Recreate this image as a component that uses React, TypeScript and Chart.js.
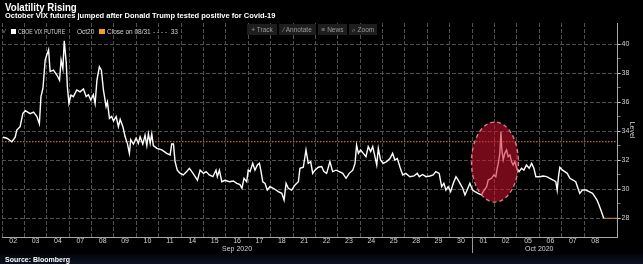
import React, { useEffect, useRef } from 'react';
import { Chart, registerables } from 'chart.js';

Chart.register(...registerables);

// ---- data ----
const dayLabels = ['02', '03', '04', '07', '08', '09', '10', '11', '14', '15', '16', '17', '18', '21', '22', '23', '24', '25', '28', '29', '30', '01', '02', '05', '06', '07', '08'];
const monthLabels = ['Sep 2020', 'Oct 2020'];
const monthDayCounts = [21, 6];
const yTickValues = [28, 30, 32, 34, 36, 38, 40];
const closeOn0831 = 33.26;
const closeLabel = '33';

// time in trading-day units from the open of Sep 02
const timeIdx = [
  0.04, 0.22, 0.44, 0.59, 0.66, 0.81, 0.93, 1.04, 1.26, 1.41, 1.56, 1.67, 1.74, 1.83, 1.93, 2.0, 2.08, 2.15, 2.3, 2.45,
  2.57, 2.64, 2.72, 2.78, 2.87, 2.92, 2.99, 3.08, 3.19, 3.34, 3.49, 3.64, 3.76, 3.86, 3.97, 4.08, 4.16, 4.24, 4.35, 4.44,
  4.53, 4.65, 4.71, 4.8, 4.9, 4.98, 5.1, 5.2,
  5.28, 5.4, 5.5, 5.6, 5.69, 5.75, 5.87, 5.99, 6.09, 6.17, 6.29, 6.39, 6.47, 6.54, 6.62, 6.69, 6.76, 6.92, 7.14, 7.36,
  7.51, 7.58, 7.66, 7.73, 7.83, 7.96, 8.1, 8.25, 8.37, 8.48, 8.63, 8.73, 8.85, 9.0, 9.12, 9.26, 9.42, 9.56, 9.62, 9.71,
  9.82, 9.96, 10.16, 10.33, 10.49, 10.63, 10.72, 10.81,
  10.93, 11.0, 11.08, 11.2, 11.3, 11.41, 11.5, 11.56, 11.65, 11.75, 11.85, 11.97, 12.12, 12.24, 12.34, 12.5, 12.6, 12.69, 12.79, 12.94,
  13.09, 13.24, 13.31, 13.46, 13.58, 13.68, 13.79, 13.88, 13.98, 14.13, 14.28, 14.38, 14.5, 14.65, 14.77, 14.92, 15.07, 15.22, 15.37, 15.51,
  15.67, 15.77, 15.84, 15.92, 16.02,
  16.14, 16.26, 16.36, 16.47, 16.56, 16.66, 16.74, 16.81, 16.91, 17.03, 17.18, 17.33, 17.45, 17.55, 17.66, 17.78, 17.9, 18.04, 18.22, 18.4,
  18.55, 18.64, 18.79, 18.94, 19.12, 19.26, 19.38, 19.53, 19.64, 19.74, 19.83, 19.93, 20.04, 20.16, 20.28, 20.38, 20.46, 20.58, 20.68, 20.78,
  20.9, 21.02, 21.13, 21.27,
  21.42, 21.5, 21.65, 21.72, 21.87, 21.97, 22.06, 22.12, 22.17, 22.24, 22.29, 22.33, 22.39, 22.46, 22.54, 22.61, 22.69, 22.76, 22.83, 22.91,
  22.99, 23.1, 23.21, 23.31, 23.43, 23.55, 23.66, 23.76, 23.85, 24.03, 24.17, 24.33, 24.47, 24.62, 24.74, 24.8, 24.86, 24.92, 25.04, 25.14,
  25.25, 25.37, 25.51, 25.63, 25.73, 25.81, 25.93, 26.08, 26.23, 26.38, 26.48, 26.58, 26.67, 26.78, 26.88,
];

const level = [
  33.57, 33.5, 33.26, 33.57, 34.07, 34.3, 35.2, 35.4, 35.2, 35.3, 35.0, 34.5, 36.37, 36.95, 38.9, 39.24, 39.6, 38.1, 38.2, 37.86,
  37.5, 38.9, 38.3, 40.23, 38.7, 37.06, 35.9, 36.48, 36.37, 36.83, 36.7, 36.9, 36.37, 36.5, 36.14, 36.5, 35.9, 37.5, 38.43, 38.2,
  36.83, 35.68, 36.0, 34.87, 35.0, 34.7, 35.0, 34.3,
  34.8, 34.3, 33.6, 33.15, 32.46, 33.4, 33.1, 33.5, 33.15, 33.6, 33.1, 33.72, 33.0, 33.8, 33.15, 33.8, 33.0, 32.8, 32.7, 32.46,
  32.35, 33.1, 33.1, 31.9, 31.3, 31.08, 30.97, 31.2, 31.43, 31.2, 30.85, 30.6, 31.3, 31.08, 31.2, 30.97, 30.85, 31.3, 30.85, 31.3,
  30.5, 30.6, 30.5, 30.55, 30.39, 30.3, 30.05, 30.74,
  30.5, 31.3, 31.2, 31.77, 31.3, 31.66, 31.77, 31.3, 30.5, 30.39, 29.93, 30.16, 30.05, 29.93, 29.82, 29.7, 29.24, 30.39, 30.05, 29.93,
  30.28, 30.5, 31.43, 31.5, 32.69, 31.77, 31.89, 31.08, 31.3, 31.5, 31.55, 31.2, 31.08, 31.89, 31.2, 31.3, 31.2, 31.08, 30.74, 31.08,
  31.3, 31.77, 33.03, 32.46, 32.69,
  32.46, 32.23, 32.92, 32.58, 32.92, 32.23, 31.66, 32.8, 32.0, 31.77, 31.89, 32.1, 32.46, 32.0, 32.1, 31.5, 30.97, 31.08, 30.85, 30.9,
  31.08, 30.85, 31.0, 30.85, 30.9, 30.97, 31.2, 31.08, 30.16, 30.39, 29.93, 30.16, 29.82, 30.39, 30.85, 30.62, 30.39, 30.05, 29.59, 29.93,
  30.39, 29.93, 29.82, 29.7,
  29.59, 29.82, 30.16, 30.62, 30.74, 30.97, 30.85, 31.43, 31.77, 32.46, 33.95, 32.69, 32.0, 32.46, 32.69, 32.23, 32.35, 31.89, 31.66, 31.89,
  31.43, 31.2, 31.43, 31.3, 31.66, 31.43, 31.77, 31.43, 30.85, 30.85, 30.9, 30.85, 30.74, 30.62, 30.5, 29.93, 30.85, 31.5, 31.3, 31.2,
  31.08, 30.74, 30.62, 30.5, 30.05, 29.7, 29.93, 29.93, 29.82, 29.7, 29.47, 29.24, 28.9, 28.43, 27.98,
];

// highlighted region (Oct 02), in data units
const highlightCenterT = 22.02;
const highlightCenterV = 31.86;
const highlightHalfT = 1.05;
const highlightHalfV = 2.76;

const X_MIN = 0;
const X_MAX = 27.5;
const Y_MIN = 26.69;
const Y_MAX = 41.45;

const FONT = "'Liberation Sans', Arial, sans-serif";
const GRID = '#505050';
const TICK_TXT = '#d2d2d2';

const overlayPlugin = {
  id: 'overlay',
  afterDatasetsDraw(chart: any) {
    const { ctx, chartArea } = chart;
    const x = chart.scales.x;
    const y = chart.scales.y;
    const cx = x.getPixelForValue(highlightCenterT);
    const cy = y.getPixelForValue(highlightCenterV);
    const rx = Math.abs(x.getPixelForValue(highlightCenterT + highlightHalfT) - cx);
    const ry = Math.abs(y.getPixelForValue(highlightCenterV + highlightHalfV) - cy);
    ctx.save();
    ctx.beginPath();
    ctx.ellipse(cx, cy, rx, ry, 0, 0, Math.PI * 2);
    ctx.fillStyle = 'rgba(205,18,45,0.56)';
    ctx.fill();
    ctx.setLineDash([4, 3]);
    ctx.lineWidth = 1.3;
    ctx.strokeStyle = 'rgba(240,140,150,0.9)';
    ctx.stroke();
    // month separator tick below the axis
    const sx = Math.round(x.getPixelForValue(monthDayCounts[0])) + 0.5;
    ctx.setLineDash([]);
    ctx.lineWidth = 1;
    ctx.strokeStyle = '#9a9a9a';
    ctx.beginPath();
    ctx.moveTo(sx, chartArea.bottom);
    ctx.lineTo(sx, chartArea.bottom + 16);
    ctx.stroke();
    ctx.restore();
  },
};

export default function App() {
  const ref = useRef<HTMLCanvasElement | null>(null);

  useEffect(() => {
    document.body.style.margin = '0';
    document.body.style.background = '#000';
    const canvas = ref.current;
    if (!canvas) return;

    const points = timeIdx.map((t, i) => ({ x: t, y: level[i] }));
    const lastT = timeIdx[timeIdx.length - 1];
    const lastV = level[level.length - 1];

    const monthCenters: number[] = [];
    let start = 0;
    monthDayCounts.forEach((n) => {
      monthCenters.push(start + n / 2);
      start += n;
    });

    const yAllTicks: number[] = [];
    for (let i = 0; i < yTickValues.length; i++) {
      yAllTicks.push(yTickValues[i]);
      if (i < yTickValues.length - 1) yAllTicks.push((yTickValues[i] + yTickValues[i + 1]) / 2);
    }

    const chart = new Chart(canvas, {
      type: 'line',
      data: {
        datasets: [
          {
            label: 'CBOE VIX FUTURE Oct20',
            data: points,
            borderColor: '#ffffff',
            borderWidth: 1.4,
            pointRadius: 0,
            tension: 0,
          },
          {
            label: 'Close on 08/31',
            data: [
              { x: X_MIN, y: closeOn0831 },
              { x: X_MAX, y: closeOn0831 },
            ],
            borderColor: '#d8952f',
            borderWidth: 1,
            borderDash: [1.5, 1.5],
            pointRadius: 0,
          },
          {
            label: 'last',
            data: [
              { x: lastT, y: lastV },
              { x: X_MAX, y: lastV },
            ],
            borderColor: '#c8914e',
            borderWidth: 1,
            pointRadius: 0,
          },
        ],
      },
      options: {
        responsive: false,
        animation: false,
        devicePixelRatio: 1,
        parsing: false,
        layout: { padding: { top: 23, left: 2, right: 0, bottom: 0 } },
        plugins: {
          legend: { display: false },
          tooltip: { enabled: false },
        },
        scales: {
          x: {
            type: 'linear',
            position: 'bottom',
            min: X_MIN,
            max: X_MAX,
            afterBuildTicks: (s: any) => {
              s.ticks = dayLabels.map((_, i) => ({ value: i }));
            },
            ticks: { display: false },
            grid: { color: GRID, lineWidth: 1, drawTicks: false },
            border: { display: true, color: '#a8a8a8', width: 1, dash: [4, 2] },
            afterFit: (s: any) => {
              s.height = 0;
            },
          },
          xl: {
            type: 'linear',
            position: 'bottom',
            min: X_MIN,
            max: X_MAX,
            afterBuildTicks: (s: any) => {
              s.ticks = dayLabels.map((_, i) => ({ value: i + 0.5 }));
            },
            ticks: {
              autoSkip: false,
              maxRotation: 0,
              padding: 0,
              color: TICK_TXT,
              font: { size: 7, family: FONT },
              callback: (_v: any, i: number) => dayLabels[i],
            },
            grid: { display: false, drawTicks: false },
            border: { display: false },
            afterFit: (s: any) => {
              s.height = 8;
            },
          },
          xm: {
            type: 'linear',
            position: 'bottom',
            min: X_MIN,
            max: X_MAX,
            afterBuildTicks: (s: any) => {
              s.ticks = monthCenters.map((v) => ({ value: v }));
            },
            ticks: {
              autoSkip: false,
              maxRotation: 0,
              padding: 0,
              color: TICK_TXT,
              font: { size: 7, family: FONT },
              callback: (_v: any, i: number) => monthLabels[i],
            },
            grid: { display: false, drawTicks: false },
            border: { display: false },
            afterFit: (s: any) => {
              s.height = 19;
            },
          },
          y: {
            type: 'linear',
            position: 'right',
            min: Y_MIN,
            max: Y_MAX,
            afterBuildTicks: (s: any) => {
              s.ticks = yAllTicks.map((v) => ({ value: v }));
            },
            ticks: {
              padding: 1,
              color: TICK_TXT,
              font: { size: 7, family: FONT },
              callback: (v: any) => (yTickValues.includes(v) ? String(v) : ''),
            },
            grid: {
              color: (c: any) => (c.tick && yTickValues.includes(c.tick.value) ? GRID : 'transparent'),
              tickColor: (c: any) => (c.tick && yTickValues.includes(c.tick.value) ? '#cfcfcf' : '#777'),
              tickLength: 3,
            },
            border: { display: true, color: '#a8a8a8', width: 1, dash: [4, 2] },
            title: {
              display: true,
              text: 'Level',
              color: TICK_TXT,
              font: { size: 7, family: FONT },
              padding: { top: 7, bottom: 0 },
            },
            afterFit: (s: any) => {
              s.width = 25.4;
            },
          },
        },
      },
      plugins: [overlayPlugin],
    } as any);

    return () => chart.destroy();
  }, []);

  const txt: React.CSSProperties = { position: 'absolute', whiteSpace: 'nowrap', fontFamily: FONT };
  const legendTxt: React.CSSProperties = { ...txt, top: 27.5, fontSize: 6.5, lineHeight: '7px', color: '#d0d0d0', transformOrigin: 'left center' };
  const btn = (left: number, width: number, label: string): React.ReactElement => (
    <div
      style={{
        ...txt,
        left,
        top: 24,
        width,
        height: 11,
        lineHeight: '11px',
        background: '#1e1e1e',
        color: '#9a9a9a',
        fontSize: 6.5,
        textAlign: 'center',
      }}
    >
      {label}
    </div>
  );

  return (
    <div style={{ position: 'relative', width: 643, height: 264, background: '#000', overflow: 'hidden' }}>
      <div style={{ position: 'absolute', left: 0, top: 254, width: 643, height: 10, background: 'linear-gradient(#03050a, #0b1222)' }} />
      <canvas ref={ref} width={643} height={264} style={{ position: 'absolute', left: 0, top: 0, width: 643, height: 264 }} />
      <div style={{ ...txt, left: 5, top: 1.5, fontSize: 10.5, lineHeight: '10px', fontWeight: 'bold', color: '#fff', transformOrigin: 'left center', transform: 'scaleX(0.92)' }}>
        Volatility Rising
      </div>
      <div style={{ ...txt, left: 5, top: 12.2, fontSize: 7.5, lineHeight: '7px', fontWeight: 'bold', color: '#fff' }}>
        October VIX futures jumped after Donald Trump tested positive for Covid-19
      </div>
      {/* legend row */}
      <div style={{ ...txt, left: 2, top: 27.5, fontSize: 6, lineHeight: '7px', color: '#8a8a8a' }}>V</div>
      <div style={{ position: 'absolute', left: 11, top: 28.5, width: 5, height: 5, background: '#ffffff' }} />
      <div style={{ ...legendTxt, left: 18, transform: 'scaleX(0.8)' }}>CBOE VIX FUTURE</div>
      <div style={{ ...legendTxt, left: 77 }}>Oct20</div>
      <div style={{ position: 'absolute', left: 99, top: 28.5, width: 6, height: 5, background: '#f39c2a' }} />
      <div style={{ ...legendTxt, left: 107 }}>Close on 08/31</div>
      <div style={{ ...legendTxt, left: 153 }}>- - - -&nbsp;&nbsp;{closeLabel}</div>
      {/* toolbar */}
      {btn(247, 30, '+ Track')}
      {btn(279, 37, '\u2044 Annotate')}
      {btn(318, 29, '\u2261 News')}
      {btn(349, 28, '\u2315 Zoom')}
      <div style={{ ...txt, left: 5, top: 255.6, fontSize: 7, lineHeight: '7px', fontWeight: 'bold', color: '#fff' }}>Source: Bloomberg</div>
    </div>
  );
}
